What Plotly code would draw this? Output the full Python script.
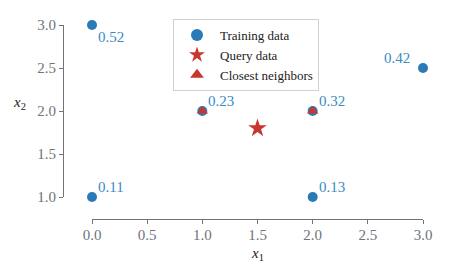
import plotly.graph_objects as go

train_x = [0, 0, 1, 2, 2, 3]
train_y = [3, 1, 2, 2, 1, 2.5]
train_labels = ["0.52", "0.11", "0.23", "0.32", "0.13", "0.42"]
label_side = ["below-right", "above-right", "above-right", "above-right", "above-right", "above-left"]
query_x = [1.5]
query_y = [1.8]
nn_x = [1, 2]
nn_y = [2, 2]

x_ticks = [0.0, 0.5, 1.0, 1.5, 2.0, 2.5, 3.0]
y_ticks = [1.0, 1.5, 2.0, 2.5, 3.0]

BLUE = "#2a7ab8"
TXT_BLUE = "#3a8bc4"
RED = "#c8372d"
GRAY = "#6e7479"
FONT = "Liberation Serif"

W, H = 457, 274
fig = go.Figure()
fig.add_trace(go.Scatter(
    x=train_x, y=train_y, mode="markers", name="Training data",
    marker=dict(symbol="circle", size=10, color=BLUE),
    cliponaxis=False,
))
fig.add_trace(go.Scatter(
    x=query_x, y=query_y, mode="markers", name="Query data",
    marker=dict(symbol="star", size=14, color=RED),
    cliponaxis=False,
))
fig.add_trace(go.Scatter(
    x=nn_x, y=nn_y, mode="markers", name="Closest neighbors",
    marker=dict(symbol="triangle-up", size=10, color=RED),
    cliponaxis=False,
))

annos = []
for x, y, t, side in zip(train_x, train_y, train_labels, label_side):
    if side == "below-right":
        a = dict(xanchor="left", yanchor="top", xshift=4, yshift=-2)
    elif side == "above-left":
        a = dict(xanchor="right", yanchor="bottom", xshift=-11, yshift=0)
    else:
        a = dict(xanchor="left", yanchor="bottom", xshift=4, yshift=0)
    annos.append(dict(x=x, y=y, xref="x", yref="y", text=t, showarrow=False,
                      font=dict(family=FONT, size=15, color=TXT_BLUE), **a))
annos.append(dict(x=19 / W, y=1 - 103 / H, xref="paper", yref="paper",
                  text="<i>x</i><sub>2</sub>", showarrow=False,
                  xanchor="center", yanchor="middle",
                  font=dict(family=FONT, size=15, color="#222")))
annos.append(dict(x=257 / W, y=1 - 254 / H, xref="paper", yref="paper",
                  text="<i>x</i><sub>1</sub>", showarrow=False,
                  xanchor="center", yanchor="middle",
                  font=dict(family=FONT, size=15, color="#222")))

fig.update_layout(
    width=W, height=H,
    margin=dict(l=0, r=0, t=0, b=0, autoexpand=False),
    paper_bgcolor="white", plot_bgcolor="white",
    font=dict(family=FONT, size=15, color=GRAY),
    showlegend=True,
    annotations=annos,
    legend=dict(
        x=173 / W, y=1 - 19 / H, xanchor="left", yanchor="top",
        bordercolor="#d0d0d0", borderwidth=1, bgcolor="white",
        font=dict(family=FONT, size=13, color="#222"),
        itemsizing="constant", itemwidth=36, tracegroupgap=0,
    ),
    xaxis=dict(
        domain=[92 / W, 423 / W], range=[0, 3],
        tickvals=x_ticks, ticktext=[f"{v:.1f}" for v in x_ticks],
        showgrid=False, zeroline=False,
        showline=True, linecolor=GRAY, linewidth=1.2,
        ticks="outside", ticklen=4, tickcolor=GRAY,
        anchor="free", position=(H - 219) / H,
        ticklabelstandoff=-2,
        tickfont=dict(family=FONT, size=15, color=GRAY),
    ),
    yaxis=dict(
        domain=[(H - 197) / H, (H - 25) / H], range=[1, 3],
        tickvals=y_ticks, ticktext=[f"{v:.1f}" for v in y_ticks],
        showgrid=False, zeroline=False,
        showline=True, linecolor=GRAY, linewidth=1.2,
        ticks="outside", ticklen=4, tickcolor=GRAY,
        anchor="free", position=63 / W,
        tickfont=dict(family=FONT, size=15, color=GRAY),
    ),
)
fig.write_html("out.html", post_script="document.body.style.margin='0';",
               config={"displayModeBar": False})
